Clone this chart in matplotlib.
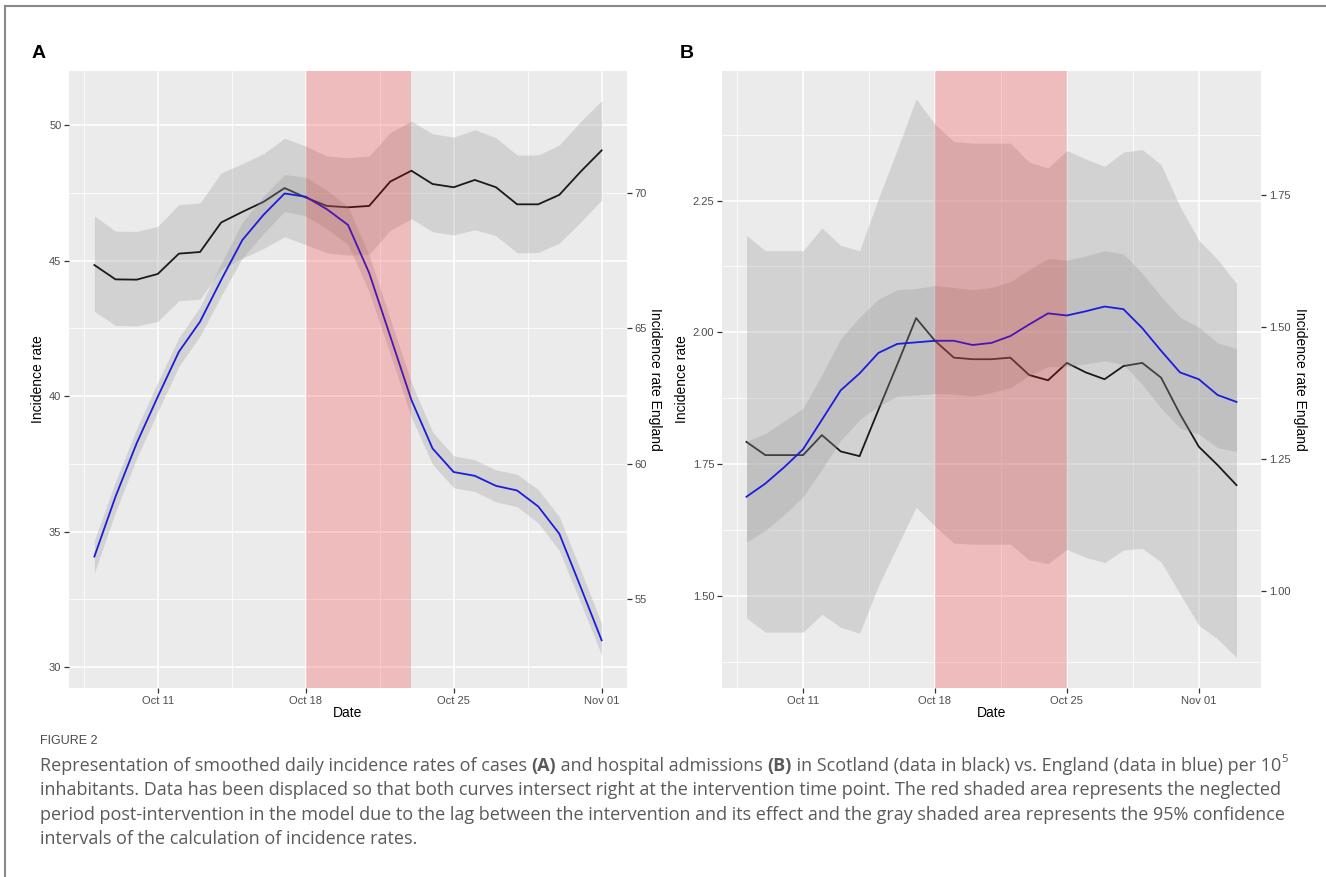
import matplotlib

matplotlib.use("Agg")

import matplotlib.dates as mdates
import matplotlib.pyplot as plt
import pandas as pd
from matplotlib.lines import Line2D


# ============================================================
# DATA
# ============================================================

dates_a = pd.date_range("2020-10-08", "2020-11-01", freq="D")
dates_b = pd.date_range("2020-10-08", "2020-11-03", freq="D")

# Panel A - cases, Scotland (left axis)
scotland_a = [44.84, 44.31, 44.30, 44.51, 45.26, 45.32, 46.41, 46.80, 47.17,
              47.68, 47.33, 47.02, 46.97, 47.02, 47.92, 48.32, 47.83, 47.71,
              47.98, 47.71, 47.08, 47.08, 47.43, 48.28, 49.07]
scotland_a_upper = [46.65, 46.09, 46.08, 46.27, 47.07, 47.13, 48.24, 48.58,
                    48.95, 49.52, 49.23, 48.86, 48.80, 48.86, 49.73, 50.15,
                    49.68, 49.56, 49.83, 49.54, 48.90, 48.90, 49.27, 50.13,
                    50.90]
scotland_a_lower = [43.13, 42.61, 42.59, 42.76, 43.52, 43.58, 44.69, 45.09,
                    45.45, 45.88, 45.59, 45.29, 45.21, 45.24, 46.12, 46.55,
                    46.07, 45.95, 46.14, 45.92, 45.29, 45.30, 45.65, 46.42,
                    47.24]

# Panel A - cases, England (right axis)
england_a = [56.58, 58.79, 60.76, 62.48, 64.14, 65.25, 66.79, 68.26, 69.19,
             69.98, 69.86, 69.40, 68.82, 67.05, 64.71, 62.36, 60.57, 59.70,
             59.56, 59.19, 59.02, 58.43, 57.42, 55.47, 53.49]
england_a_upper = [57.18, 59.35, 61.30, 63.02, 64.66, 65.80, 67.40, 68.92,
                   69.88, 70.68, 70.58, 70.10, 69.50, 67.70, 65.35, 63.00,
                   61.18, 60.30, 60.15, 59.78, 59.62, 59.05, 58.05, 56.10,
                   54.10]
england_a_lower = [55.98, 58.22, 60.20, 61.93, 63.60, 64.72, 66.20, 67.60,
                   68.50, 69.32, 69.15, 68.68, 68.10, 66.35, 64.05, 61.72,
                   59.98, 59.12, 58.98, 58.60, 58.42, 57.82, 56.80, 54.88,
                   52.95]

# Panel B - hospital admissions, Scotland (left axis)
scotland_b = [1.792, 1.767, 1.767, 1.767, 1.805, 1.774, 1.765, 1.853, 1.939,
              2.027, 1.984, 1.952, 1.949, 1.949, 1.952, 1.919, 1.909, 1.942,
              1.924, 1.911, 1.936, 1.942, 1.914, 1.845, 1.783, 1.748, 1.710]
scotland_b_upper = [2.184, 2.155, 2.155, 2.155, 2.198, 2.165, 2.155, 2.254,
                    2.347, 2.443, 2.395, 2.362, 2.359, 2.359, 2.359, 2.323,
                    2.312, 2.345, 2.329, 2.315, 2.342, 2.347, 2.318, 2.239,
                    2.175, 2.138, 2.093]
scotland_b_lower = [1.458, 1.431, 1.431, 1.431, 1.465, 1.440, 1.429, 1.519,
                    1.594, 1.668, 1.632, 1.600, 1.598, 1.598, 1.598, 1.568,
                    1.561, 1.588, 1.573, 1.563, 1.587, 1.590, 1.564, 1.504,
                    1.444, 1.418, 1.383]

# Panel B - hospital admissions, England (right axis)
england_b = [1.178, 1.203, 1.234, 1.268, 1.324, 1.380, 1.412, 1.451, 1.468,
             1.471, 1.474, 1.474, 1.466, 1.470, 1.483, 1.505, 1.526, 1.522,
             1.530, 1.539, 1.534, 1.498, 1.455, 1.414, 1.401, 1.371, 1.358]
england_b_upper = [1.283, 1.298, 1.322, 1.346, 1.410, 1.478, 1.519, 1.553,
                   1.571, 1.573, 1.579, 1.575, 1.571, 1.575, 1.586, 1.609,
                   1.630, 1.627, 1.635, 1.645, 1.639, 1.602, 1.558, 1.519,
                   1.500, 1.470, 1.459]
england_b_lower = [1.092, 1.114, 1.144, 1.178, 1.230, 1.285, 1.324, 1.350,
                   1.369, 1.371, 1.374, 1.373, 1.369, 1.376, 1.385, 1.408,
                   1.425, 1.425, 1.430, 1.436, 1.429, 1.391, 1.346, 1.308,
                   1.297, 1.271, 1.264]

lag_a = ["2020-10-18", "2020-10-23"]
lag_b = ["2020-10-18", "2020-10-25"]

date_ticks = ["2020-10-11", "2020-10-18", "2020-10-25", "2020-11-01"]
date_labels = ["Oct 11", "Oct 18", "Oct 25", "Nov 01"]

left_ticks_a = [30, 35, 40, 45, 50]
right_ticks_a = [55, 60, 65, 70]
left_ticks_b = [1.50, 1.75, 2.00, 2.25]
right_ticks_b = [1.00, 1.25, 1.50, 1.75]

caption_lines = [
    [("Representation of smoothed daily incidence rates of cases ", "normal", ""),
     ("(A)", "bold", ""),
     (" and hospital admissions ", "normal", ""),
     ("(B)", "bold", ""),
     (" in Scotland (data in black) vs. England (data in blue) per 10", "normal", ""),
     ("5", "normal", "sup")],
    [("inhabitants. Data has been displaced so that both curves intersect right "
      "at the intervention time point. The red shaded area represents the neglected",
      "normal", "")],
    [("period post-intervention in the model due to the lag between the intervention "
      "and its effect and the gray shaded area represents the 95% confidence",
      "normal", "")],
    [("intervals of the calculation of incidence rates.", "normal", "")],
]


# ============================================================
# SETTINGS
# ============================================================

W, H = 1326, 877
DPI = 100

plt.rcParams["font.family"] = ["Liberation Sans", "DejaVu Sans"]

PANEL_BG = "#EBEBEB"
BAND_COLOR = "#999999"
BAND_ALPHA = 0.3
BLUE = "#1c1ce0"
BLACK = "#1a1a1a"
TICK_TEXT = "#4D4D4D"
CAPTION_COLOR = "#5a5a5a"
CAPTION_FONT = ["Open Sans", "DejaVu Sans"]


def px_rect(left, top, right, bottom):
    return [left / W, 1 - bottom / H, (right - left) / W, (bottom - top) / H]


def draw_panel(
    fig,
    rect,
    dates,
    scot,
    scot_lo,
    scot_hi,
    eng,
    eng_lo,
    eng_hi,
    lag,
    ylim,
    offset,
    left_ticks,
    right_ticks,
    step,
    fmt,
    label_x_left,
    label_x_right,
):
    x = mdates.date2num(dates)
    span = x[-1] - x[0]

    ax = fig.add_axes(rect)
    ax.set_facecolor(PANEL_BG)
    for spine in ax.spines.values():
        spine.set_visible(False)

    # Scotland: ribbon + line
    ax.fill_between(x, scot_lo, scot_hi, color=BAND_COLOR, alpha=BAND_ALPHA,
                    linewidth=0)
    ax.plot(x, scot, color=BLACK, linewidth=1.3)

    # ticks and grid
    major_x = mdates.date2num(pd.to_datetime(date_ticks))
    minor_x = [major_x[0] - 3.5] + [m + 3.5 for m in major_x]
    ax.set_xticks(major_x)
    ax.set_xticklabels(date_labels)
    ax.set_xticks(minor_x, minor=True)
    ax.set_yticks(left_ticks)
    ax.set_yticklabels([fmt.format(v) for v in left_ticks])
    minor_y = [left_ticks[0] - step / 2] + [v + step / 2 for v in left_ticks]
    ax.set_yticks(minor_y, minor=True)

    ax.grid(which="major", color="white", linewidth=1.1)
    ax.grid(which="minor", color="white", linewidth=0.55)
    ax.set_axisbelow(True)
    ax.tick_params(which="minor", length=0)
    ax.tick_params(which="major", length=3.5, width=0.9, color="#333333",
                   labelcolor=TICK_TEXT, labelsize=8, pad=2)

    ax.set_xlabel("Date", fontsize=10)
    ax.xaxis.set_label_coords(0.5, -0.029)
    ax.set_ylabel("Incidence rate", fontsize=10)
    ax.yaxis.set_label_coords(label_x_left, 0.5)

    # England: secondary axis
    ax2 = ax.twinx()
    for spine in ax2.spines.values():
        spine.set_visible(False)
    ax2.fill_between(x, eng_lo, eng_hi, color=BAND_COLOR, alpha=BAND_ALPHA,
                     linewidth=0)
    ax2.plot(x, eng, color=BLUE, linewidth=1.3)

    # lag period after intervention
    lag_x = mdates.date2num(pd.to_datetime(lag))
    ax2.axvspan(lag_x[0], lag_x[1], color="red", alpha=0.2, linewidth=0,
                zorder=5)

    ax2.set_yticks(right_ticks)
    ax2.set_yticklabels([fmt.format(v) for v in right_ticks])
    ax2.tick_params(which="major", length=3.5, width=0.9, color="#333333",
                    labelcolor=TICK_TEXT, labelsize=8, pad=2)
    ax2.set_ylabel("Incidence rate England", fontsize=10, rotation=270,
                   va="bottom")
    ax2.yaxis.set_label_coords(label_x_right, 0.5)

    # limits last, so that ticks and twin plotting do not widen them
    ax.set_xlim(x[0] - 0.05 * span, x[-1] + 0.05 * span)
    ax.set_ylim(ylim)
    ax2.set_ylim(ylim[0] + offset, ylim[1] + offset)

    return ax, ax2


def text_advance(fig, renderer, text, **props):
    probe = fig.text(0, 0, "|" + text + "|", **props)
    bars = fig.text(0, 0, "||", **props)
    width = (probe.get_window_extent(renderer).width
             - bars.get_window_extent(renderer).width)
    probe.remove()
    bars.remove()
    return width


def seg_props(size, weight, kind):
    fs = size * 0.62 if kind == "sup" else size
    return dict(fontsize=fs, fontweight=weight, family=CAPTION_FONT,
                color=CAPTION_COLOR, va="baseline", ha="left")


def line_width(fig, renderer, segments, size):
    return sum(
        text_advance(fig, renderer, text, **seg_props(size, weight, kind))
        for text, weight, kind in segments
    )


def draw_rich_line(fig, renderer, x_px, baseline_px, segments, size):
    x = x_px
    for text, weight, kind in segments:
        props = seg_props(size, weight, kind)
        rise = size * 0.5 if kind == "sup" else 0.0
        fig.text(x / W, 1 - (baseline_px - rise * DPI / 72) / H, text, **props)
        x += text_advance(fig, renderer, text, **props)


# ============================================================
# FIGURE
# ============================================================

fig = plt.figure(figsize=(W / DPI, H / DPI), dpi=DPI)
fig.patch.set_facecolor("white")

draw_panel(
    fig, px_rect(69, 71, 627, 688),
    dates_a, scotland_a, scotland_a_lower, scotland_a_upper,
    england_a, england_a_lower, england_a_upper,
    lag_a, (29.23, 52.0), 22.5,
    left_ticks_a, right_ticks_a, 5, "{:g}",
    -0.043, 1.037,
)

draw_panel(
    fig, px_rect(722, 71, 1261, 688),
    dates_b, scotland_b, scotland_b_lower, scotland_b_upper,
    england_b, england_b_lower, england_b_upper,
    lag_b, (1.325, 2.496), -0.51,
    left_ticks_b, right_ticks_b, 0.25, "{:.2f}",
    -0.061, 1.059,
)

fig.text(32 / W, 1 - 54 / H, "A", fontsize=14, fontweight="bold",
         va="center", ha="left")
fig.text(680 / W, 1 - 54 / H, "B", fontsize=14, fontweight="bold",
         va="center", ha="left")

# frame lines of the figure box
fig.add_artist(Line2D([4.5 / W, 4.5 / W], [0, 1 - 5.5 / H],
                      transform=fig.transFigure, color="#8a8a8a", linewidth=1.5))
fig.add_artist(Line2D([4.5 / W, 1], [1 - 5.5 / H, 1 - 5.5 / H],
                      transform=fig.transFigure, color="#8a8a8a", linewidth=1.5))

# ============================================================
# CAPTION
# ============================================================

renderer = fig.canvas.get_renderer()

fig.text(40 / W, 1 - 741 / H, "FIGURE 2", fontsize=9,
         family=["Liberation Sans Narrow", "Liberation Sans"],
         color="#4a4a4a", va="center", ha="left")

# fit the first caption line to the width it has in the reference
base_size = 10.0
caption_size = base_size * 1256 / line_width(fig, renderer, caption_lines[0],
                                             base_size)

for i, segments in enumerate(caption_lines):
    draw_rich_line(fig, renderer, 40, 771 + i * 24.3, segments, caption_size)

fig.savefig("out.png", dpi=DPI)
plt.close(fig)
